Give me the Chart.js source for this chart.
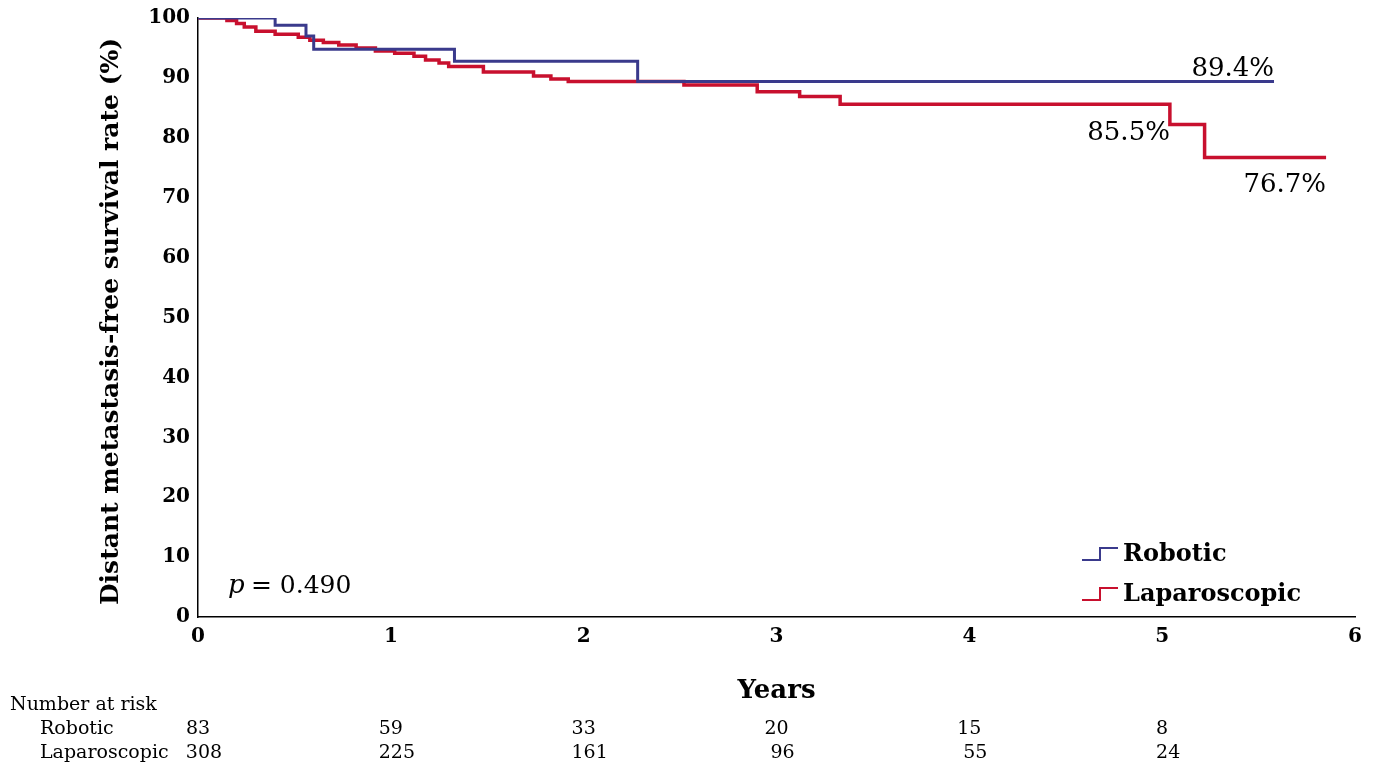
<!DOCTYPE html>
<html>
<head>
<meta charset="utf-8">
<script src="https://cdn.jsdelivr.net/npm/chart.js@4"></script>
<style>
  html, body { margin: 0; padding: 0; background: #fff; }
  #wrap { width: 1378px; height: 780px; }
</style>
</head>
<body>
<div id="wrap"><canvas id="kmChart" width="1378" height="780"></canvas></div>
<script>
const SERIF = '"DejaVu Serif", "Liberation Serif", serif';
const BLUE = '#3a3a8c';
const RED = '#c8102e';

// Kaplan-Meier steps: [years, survival %]
const robotic = [
  [0, 100], [0.40, 100], [0.40, 98.8], [0.56, 98.8], [0.56, 97], [0.60, 97], [0.60, 94.8],
  [1.33, 94.8], [1.33, 92.8], [2.28, 92.8], [2.28, 89.4], [5.58, 89.4]
];
const laparoscopic = [
  [0, 100], [0.15, 100], [0.15, 99.6], [0.20, 99.6], [0.20, 99.1], [0.24, 99.1], [0.24, 98.5],
  [0.30, 98.5], [0.30, 97.8], [0.40, 97.8], [0.40, 97.3], [0.52, 97.3], [0.52, 96.8],
  [0.58, 96.8], [0.58, 96.3], [0.65, 96.3], [0.65, 95.9], [0.73, 95.9], [0.73, 95.5],
  [0.82, 95.5], [0.82, 95.0], [0.92, 95.0], [0.92, 94.5], [1.02, 94.5], [1.02, 94.1],
  [1.12, 94.1], [1.12, 93.6], [1.18, 93.6], [1.18, 93.0], [1.25, 93.0], [1.25, 92.5],
  [1.30, 92.5], [1.30, 91.9], [1.48, 91.9], [1.48, 91.0], [1.74, 91.0], [1.74, 90.3],
  [1.83, 90.3], [1.83, 89.8], [1.92, 89.8], [1.92, 89.4], [2.52, 89.4], [2.52, 88.8],
  [2.90, 88.8], [2.90, 87.7], [3.12, 87.7], [3.12, 86.9], [3.33, 86.9], [3.33, 85.6],
  [5.04, 85.6], [5.04, 82.2], [5.22, 82.2], [5.22, 76.7], [5.85, 76.7]
];

const atRisk = {
  Robotic: [83, 59, 33, 20, 15, 8],
  Laparoscopic: [308, 225, 161, 96, 55, 24]
};

const toPoints = arr => arr.map(([x, y]) => ({ x, y }));

const overlay = {
  id: 'overlay',
  afterDraw(chart) {
    const { ctx } = chart;
    const xs = chart.scales.x, ys = chart.scales.y;
    ctx.save();
    ctx.fillStyle = '#000';

    // y title
    ctx.save();
    ctx.translate(118, ys.getPixelForValue(50) + 4);
    ctx.rotate(-Math.PI / 2);
    ctx.textAlign = 'center';
    ctx.font = 'bold 25px ' + SERIF;
    ctx.fillText('Distant metastasis-free survival rate (%)', 0, 0);
    ctx.restore();

    // end labels
    ctx.font = '26px ' + SERIF;
    ctx.textAlign = 'right';
    ctx.textBaseline = 'alphabetic';
    ctx.fillText('89.4%', xs.getPixelForValue(5.58), ys.getPixelForValue(90.4));
    ctx.fillText('85.5%', xs.getPixelForValue(5.04), ys.getPixelForValue(79.7));
    ctx.fillText('76.7%', xs.getPixelForValue(5.85), ys.getPixelForValue(71.0));

    // p value
    ctx.textAlign = 'left';
    ctx.font = 'italic 26px ' + SERIF;
    ctx.fillText('p', 228, 593);
    ctx.font = '25px ' + SERIF;
    ctx.fillText(' = 0.490', 243, 593);

    // legend with step glyphs
    const legend = [['Robotic', BLUE, 560], ['Laparoscopic', RED, 600]];
    legend.forEach(([label, color, y]) => {
      ctx.strokeStyle = color;
      ctx.lineWidth = 2;
      ctx.beginPath();
      ctx.moveTo(1082, y); ctx.lineTo(1100, y); ctx.lineTo(1100, y - 12); ctx.lineTo(1118, y - 12);
      ctx.stroke();
      ctx.font = 'bold 24px ' + SERIF;
      ctx.fillText(label, 1123, y + 1);
    });

    // x title
    ctx.textAlign = 'center';
    ctx.font = 'bold 26px ' + SERIF;
    ctx.fillText('Years', xs.getPixelForValue(3), 698);

    // number at risk table
    ctx.font = '19px ' + SERIF;
    ctx.textAlign = 'left';
    ctx.fillText('Number at risk', 10, 710);
    ctx.fillText('Robotic', 40, 734);
    ctx.fillText('Laparoscopic', 40, 758);
    ctx.textAlign = 'center';
    atRisk.Robotic.forEach((n, i) => ctx.fillText(String(n), xs.getPixelForValue(i), 734));
    atRisk.Laparoscopic.forEach((n, i) => ctx.fillText(String(n), xs.getPixelForValue(i) + 6, 758));
    ctx.restore();
  }
};

const ctx = document.getElementById('kmChart').getContext('2d');
new Chart(ctx, {
  type: 'line',
  data: {
    datasets: [
      { label: 'Robotic', data: toPoints(robotic), borderColor: BLUE, borderWidth: 3, pointRadius: 0, tension: 0 },
      { label: 'Laparoscopic', data: toPoints(laparoscopic), borderColor: RED, borderWidth: 3.5, pointRadius: 0, tension: 0 }
    ]
  },
  options: {
    responsive: false,
    animation: false,
    layout: { padding: { left: 0, top: 18, right: 23, bottom: 123 } },
    plugins: { legend: { display: false }, tooltip: { enabled: false } },
    scales: {
      x: {
        type: 'linear', min: 0, max: 6,
        grid: { display: false, drawTicks: true, tickLength: 6, tickColor: '#000' },
        border: { color: '#000', width: 1.5 },
        ticks: { stepSize: 1, color: '#000', font: { family: SERIF, size: 20, weight: 'bold' }, padding: 2 },
        afterFit: s => { s.height = 40; }
      },
      y: {
        min: 0, max: 100,
        grid: { display: false, drawTicks: true, tickLength: 6, tickColor: '#000' },
        border: { color: '#000', width: 1.5 },
        ticks: { stepSize: 10, color: '#000', font: { family: SERIF, size: 20, weight: 'bold' }, padding: 2 },
        afterFit: s => { s.width = 198; }
      }
    }
  },
  plugins: [overlay]
});
</script>
</body>
</html>
